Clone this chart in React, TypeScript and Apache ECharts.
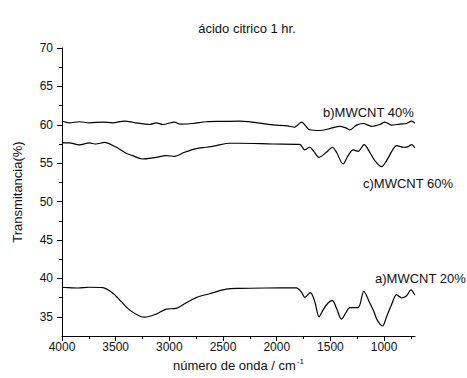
import React, { useEffect, useRef } from "react";
import * as echarts from "echarts";

const wnA = [4000, 3950, 3850, 3750, 3621, 3528, 3450, 3372, 3263, 3232, 3123, 3030, 2936, 2859, 2750, 2626, 2470, 2346, 2100, 1817, 1770, 1739, 1686, 1646, 1606, 1568, 1522, 1481, 1443, 1397, 1357, 1319, 1242, 1189, 1133, 1095, 1065, 1014, 977, 930, 884, 837, 790, 750, 713];
const tA = [38.85, 38.8, 38.75, 38.85, 38.8, 38.1, 37.0, 35.9, 35.0, 34.95, 35.35, 36.0, 36.1, 36.7, 37.5, 38.0, 38.6, 38.7, 38.75, 38.76, 38.23, 37.53, 38.14, 37.0, 35.0, 35.9, 36.8, 37.1, 36.1, 34.7, 35.5, 36.2, 36.2, 38.3, 36.8, 35.7, 34.6, 33.8, 35.0, 36.6, 37.9, 37.45, 37.75, 38.5, 37.8];

const wnB = [4000, 3932, 3839, 3745, 3621, 3528, 3419, 3310, 3185, 3123, 3061, 2952, 2905, 2781, 2656, 2501, 2346, 2035, 1900, 1832, 1770, 1692, 1599, 1506, 1413, 1357, 1319, 1257, 1195, 1117, 1039, 993, 930, 853, 790, 744, 713];
const tB = [60.5, 60.26, 60.4, 60.26, 60.35, 60.26, 60.48, 60.26, 60.04, 60.26, 60.04, 60.35, 60.1, 60.17, 60.4, 60.44, 60.48, 60.0, 59.85, 59.7, 60.35, 59.35, 59.26, 59.5, 59.8, 59.6, 59.35, 59.96, 60.17, 59.8, 60.04, 60.35, 59.96, 60.1, 60.17, 60.48, 60.22];

const wnC = [4000, 3932, 3839, 3745, 3683, 3605, 3512, 3403, 3341, 3254, 3123, 3030, 2952, 2859, 2750, 2656, 2563, 2439, 2346, 2035, 1786, 1739, 1692, 1655, 1606, 1537, 1481, 1443, 1382, 1335, 1288, 1242, 1186, 1133, 1086, 1023, 977, 915, 884, 822, 775, 744, 713];
const tC = [57.64, 57.64, 57.38, 57.64, 57.5, 57.7, 57.2, 56.3, 55.98, 55.55, 55.77, 55.98, 55.9, 56.42, 56.9, 57.08, 57.29, 57.6, 57.6, 57.5, 57.45, 56.73, 57.08, 56.55, 55.77, 56.42, 57.08, 56.42, 54.9, 55.98, 56.73, 56.55, 57.42, 56.42, 55.33, 54.55, 55.33, 56.86, 57.29, 57.08, 57.16, 57.42, 56.98];

const xMajorTicks = [4000, 3500, 3000, 2500, 2000, 1500, 1000];
const xMinorTicks = [3750, 3250, 2750, 2250, 1750, 1250, 750];
const yMajorTicks = [35, 40, 45, 50, 55, 60, 65, 70];
const yMinorTicks = [37.5, 42.5, 47.5, 52.5, 57.5, 62.5, 67.5];

const seriesLabels = ["a)MWCNT 20%", "b)MWCNT 40%", "c)MWCNT 60%"];
const titleText = "ácido citrico 1 hr.";

const FONT = "Liberation Sans, Arial, sans-serif";

function toData(wn: number[], t: number[]) {
  return wn.map((w, i) => [-w, t[i]]);
}

export default function App() {
  const ref = useRef<HTMLDivElement>(null);
  useEffect(() => {
    if (!ref.current) return;
    const chart = echarts.init(ref.current, null, { renderer: "svg" });
    const lineStyle = { color: "#000", width: 1.2 };
    const axisLine = { show: true, lineStyle: { color: "#000", width: 1 } };
    chart.setOption({
      animation: false,
      backgroundColor: "#fff",
      title: {
        text: titleText,
        left: 242,
        textAlign: "center",
        top: 17,
        textStyle: { fontFamily: FONT, fontSize: 13, fontWeight: "normal", color: "#111" },
      },
      grid: { left: 62, right: 52, top: 48, bottom: 42 },
      xAxis: [
        {
          type: "value",
          min: -4000,
          max: -712,
          axisLine,
          axisTick: { show: true, inside: false, length: 5, customValues: xMajorTicks.map((v) => -v), lineStyle: { color: "#000" } },
          axisLabel: {
            customValues: xMajorTicks.map((v) => -v),
            formatter: (v: number) => String(-v),
            margin: 5,
            fontFamily: FONT,
            fontSize: 12,
            color: "#111",
          },
          splitLine: { show: false },
          name: "{a|número de onda / cm}{s|-1}",
          nameLocation: "middle",
          nameGap: 15,
          nameTextStyle: {
            fontFamily: FONT,
            fontSize: 13,
            color: "#111",
            rich: {
              a: { fontFamily: FONT, fontSize: 13, color: "#111", lineHeight: 15 },
              s: { fontFamily: FONT, fontSize: 8, color: "#111", verticalAlign: "top", lineHeight: 8, padding: [0, 0, 0, 1] },
            },
          },
        },
        {
          type: "value",
          min: -4000,
          max: -712,
          position: "bottom",
          axisLine: { show: false },
          axisTick: { show: true, length: 3, customValues: xMinorTicks.map((v) => -v), lineStyle: { color: "#000" } },
          axisLabel: { show: false },
          splitLine: { show: false },
        },
      ],
      yAxis: [
        {
          type: "value",
          min: 32.5,
          max: 70,
          axisLine,
          axisTick: { show: true, length: 5, customValues: yMajorTicks, lineStyle: { color: "#000" } },
          axisLabel: { customValues: yMajorTicks, margin: 9, fontFamily: FONT, fontSize: 12, color: "#111" },
          splitLine: { show: false },
          name: "Transmitancia(%)",
          nameLocation: "middle",
          nameGap: 38,
          nameTextStyle: { fontFamily: FONT, fontSize: 13, color: "#111" },
        },
        {
          type: "value",
          min: 32.5,
          max: 70,
          position: "left",
          axisLine: { show: false },
          axisTick: { show: true, length: 3, customValues: yMinorTicks, lineStyle: { color: "#000" } },
          axisLabel: { show: false },
          splitLine: { show: false },
        },
      ],
      series: [
        { type: "line", name: seriesLabels[0], data: toData(wnA, tA), showSymbol: false, smooth: 0.3, lineStyle, xAxisIndex: 0, yAxisIndex: 0 },
        { type: "line", name: seriesLabels[1], data: toData(wnB, tB), showSymbol: false, smooth: 0.3, lineStyle, xAxisIndex: 0, yAxisIndex: 0 },
        { type: "line", name: seriesLabels[2], data: toData(wnC, tC), showSymbol: false, smooth: 0.3, lineStyle, xAxisIndex: 0, yAxisIndex: 0 },
      ],
      graphic: [
        { type: "text", x: 375, y: 278, style: { text: seriesLabels[0], font: `13px ${FONT}`, fill: "#111", verticalAlign: "middle" } },
        { type: "text", x: 323, y: 112, style: { text: seriesLabels[1], font: `13px ${FONT}`, fill: "#111", verticalAlign: "middle" } },
        { type: "text", x: 363, y: 183, style: { text: seriesLabels[2], font: `13px ${FONT}`, fill: "#111", verticalAlign: "middle" } },
      ],
    });
    return () => chart.dispose();
  }, []);
  return <div ref={ref} style={{ width: 467, height: 378, position: "absolute", left: 0, top: 0 }} />;
}
